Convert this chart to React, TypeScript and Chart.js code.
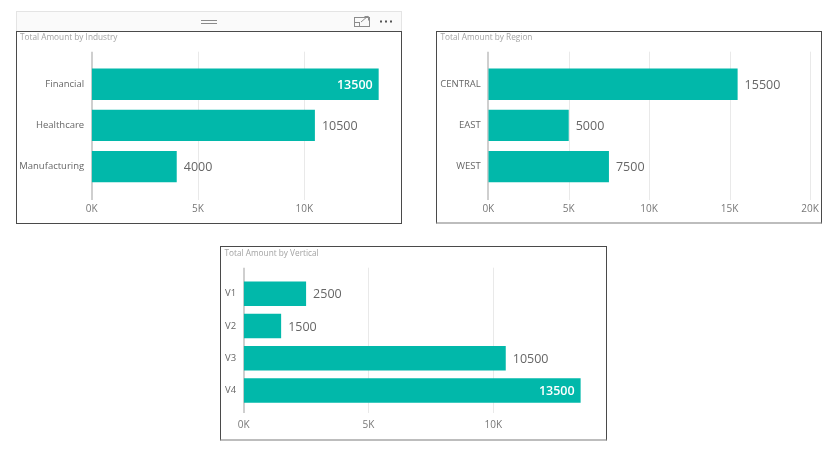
import React, { useEffect, useRef } from "react";
import { Chart, registerables } from "chart.js";

Chart.register(...registerables);

// ---- data ----
const industryLabels = ["Financial", "Healthcare", "Manufacturing"];
const industryValues = [13500, 10500, 4000];
const industryTicks = [0, 5000, 10000];

const regionLabels = ["CENTRAL", "EAST", "WEST"];
const regionValues = [15500, 5000, 7500];
const regionTicks = [0, 5000, 10000, 15000, 20000];

const verticalLabels = ["V1", "V2", "V3", "V4"];
const verticalValues = [2500, 1500, 10500, 13500];
const verticalTicks = [0, 5000, 10000];

const FONT = '"Open Sans", "DejaVu Sans", sans-serif';
const BAR = "#01B8AA";

type Geo = {
  areaLeft: number;
  areaRight: number;
  areaTop: number;
  areaBottom: number;
  gridTop: number;
  gridBottom: number;
  tickCenter: number;
  titleCenter: number;
  padL: number;
};

type PanelProps = {
  left: number;
  top: number;
  width: number;
  height: number;
  bottomBorder: number;
  bottomColor: string;
  title: string;
  labels: string[];
  values: number[];
  ticks: number[];
  max: number;
  geo: Geo;
};

function Panel(p: PanelProps) {
  const ref = useRef<HTMLCanvasElement | null>(null);
  const innerW = p.width - 2;
  const innerH = p.height - 1 - p.bottomBorder;

  useEffect(() => {
    const canvas = ref.current;
    if (!canvas) return;
    const g = p.geo;
    const titleSize = 8.25;
    const titleLH = titleSize * 1.2;
    const tickLH = 10 * 1.2;

    const gridPlugin = {
      id: "extGrid",
      beforeDatasetsDraw(chart: any) {
        const ctx = chart.ctx;
        const xs = chart.scales.x;
        ctx.save();
        p.ticks.forEach((v) => {
          const px = Math.round(xs.getPixelForValue(v));
          ctx.beginPath();
          if (v === 0) {
            ctx.strokeStyle = "#cfcfcf";
            ctx.lineWidth = 2;
            ctx.moveTo(px, g.gridTop);
            ctx.lineTo(px, g.gridBottom);
          } else {
            ctx.strokeStyle = "#e9e9e9";
            ctx.lineWidth = 1;
            ctx.moveTo(px + 0.5, g.gridTop);
            ctx.lineTo(px + 0.5, g.gridBottom);
          }
          ctx.stroke();
        });
        ctx.restore();
      },
    };

    const labelPlugin = {
      id: "valueLabels",
      afterDatasetsDraw(chart: any) {
        const ctx = chart.ctx;
        const meta = chart.getDatasetMeta(0);
        ctx.save();
        ctx.textBaseline = "middle";
        meta.data.forEach((bar: any, i: number) => {
          const text = String(p.values[i]);
          ctx.font = `12.5px ${FONT}`;
          const w = ctx.measureText(text).width;
          const outX = bar.x + 7;
          if (outX + w <= chart.width - 4) {
            ctx.fillStyle = "#666666";
            ctx.textAlign = "left";
            ctx.fillText(text, outX, bar.y + 1);
          } else {
            ctx.font = `600 12.5px ${FONT}`;
            ctx.fillStyle = "#ffffff";
            ctx.textAlign = "right";
            ctx.fillText(text, bar.x - 6, bar.y + 1);
          }
        });
        ctx.restore();
      },
    };

    const chart = new Chart(canvas, {
      type: "bar",
      data: {
        labels: p.labels,
        datasets: [
          {
            data: p.values,
            backgroundColor: BAR,
            borderWidth: 0,
            barPercentage: 0.76,
            categoryPercentage: 1,
          },
        ],
      },
      options: {
        indexAxis: "y",
        responsive: false,
        animation: false,
        devicePixelRatio: 1,
        layout: {
          padding: { left: p.geo.padL, right: innerW - g.areaRight, top: 0, bottom: 0 },
        },
        plugins: {
          legend: { display: false },
          tooltip: { enabled: false },
          title: {
            display: true,
            text: p.title,
            align: "start",
            color: "#a3a3a3",
            font: { family: FONT, size: titleSize, weight: "normal", lineHeight: 1.2 },
            padding: {
              top: g.titleCenter - titleLH / 2,
              bottom: g.areaTop - (g.titleCenter + titleLH / 2),
            },
          },
        },
        scales: {
          x: {
            type: "linear",
            min: 0,
            max: p.max,
            grid: {
              display: false,
              drawTicks: true,
              tickLength: g.tickCenter - g.areaBottom - tickLH / 2,
            },
            border: { display: false },
            ticks: {
              color: "#777777",
              font: { family: FONT, size: 10 },
              padding: 0,
              maxRotation: 0,
              autoSkip: false,
              callback: (v: any) => Number(v) / 1000 + "K",
            },
            afterBuildTicks: (s: any) => {
              s.ticks = p.ticks.map((v) => ({ value: v }));
            },
            afterFit: (s: any) => {
              s.height = innerH - g.areaBottom;
            },
          },
          y: {
            type: "category",
            grid: { display: false, drawTicks: false, tickLength: 0 },
            border: { display: false },
            ticks: {
              color: "#666666",
              font: { family: FONT, size: 9.5 },
              padding: 7.5,
              autoSkip: false,
            },
            afterFit: (s: any) => {
              s.width = g.areaLeft - p.geo.padL;
            },
          },
        },
      } as any,
      plugins: [gridPlugin, labelPlugin],
    });
    return () => chart.destroy();
  }, []);

  return (
    <div
      style={{
        position: "absolute",
        left: p.left,
        top: p.top,
        width: p.width,
        height: p.height,
        boxSizing: "border-box",
        border: "1px solid #4a4a4a",
        borderBottom: `${p.bottomBorder}px solid ${p.bottomColor}`,
        background: "#ffffff",
      }}
    >
      <canvas
        ref={ref}
        width={innerW}
        height={innerH}
        style={{ display: "block", width: innerW, height: innerH }}
      />
    </div>
  );
}

function Header() {
  return (
    <div
      style={{
        position: "absolute",
        left: 16,
        top: 11,
        width: 386,
        height: 20,
        boxSizing: "border-box",
        border: "1px solid #e4e4e4",
        borderBottom: "none",
        background: "#fafafa",
      }}
    >
      <svg width={386} height={20} style={{ position: "absolute", left: -1, top: -1 }}>
        <line x1={185} y1={9.5} x2={201} y2={9.5} stroke="#8a8a8a" strokeWidth={1} />
        <line x1={185} y1={12.5} x2={201} y2={12.5} stroke="#8a8a8a" strokeWidth={1} />
        <rect x={338.5} y={6.5} width={15} height={9} fill="none" stroke="#8c8c8c" strokeWidth={1} />
        <rect x={338.5} y={11.5} width={5} height={4} fill="#fafafa" stroke="#8c8c8c" strokeWidth={1} />
        <line x1={345} y1={11} x2={352} y2={5} stroke="#8c8c8c" strokeWidth={1} />
        <line x1={348.5} y1={5.5} x2={352.5} y2={5.5} stroke="#8c8c8c" strokeWidth={1} />
        <line x1={352.5} y1={5.5} x2={352.5} y2={9.5} stroke="#8c8c8c" strokeWidth={1} />
        <rect x={364} y={9.5} width={2} height={2} fill="#555" />
        <rect x={369} y={9.5} width={2} height={2} fill="#555" />
        <rect x={374} y={9.5} width={2} height={2} fill="#555" />
      </svg>
    </div>
  );
}

export default function App() {
  return (
    <div
      style={{
        position: "absolute",
        left: 0,
        top: 0,
        width: 838,
        height: 453,
        background: "#ffffff",
        overflow: "hidden",
      }}
    >
      <Header />
      <Panel
        left={16}
        top={31}
        width={386}
        height={193}
        bottomBorder={1}
        bottomColor="#4a4a4a"
        title="Total Amount by Industry"
        labels={industryLabels}
        values={industryValues}
        ticks={industryTicks}
        max={14000}
        geo={{
          areaLeft: 74.7,
          areaRight: 372.3,
          areaTop: 31.6,
          areaBottom: 155.3,
          gridTop: 19.7,
          gridBottom: 168,
          tickCenter: 177,
          titleCenter: 6,
          padL: 3,
        }}
      />
      <Panel
        left={436}
        top={31}
        width={386}
        height={193}
        bottomBorder={2}
        bottomColor="#bdbdbd"
        title="Total Amount by Region"
        labels={regionLabels}
        values={regionValues}
        ticks={regionTicks}
        max={20000}
        geo={{
          areaLeft: 51.3,
          areaRight: 373,
          areaTop: 31.6,
          areaBottom: 155.3,
          gridTop: 19.7,
          gridBottom: 168,
          tickCenter: 177,
          titleCenter: 6,
          padL: 3.5,
        }}
      />
      <Panel
        left={220}
        top={246}
        width={387}
        height={195}
        bottomBorder={2}
        bottomColor="#bdbdbd"
        title="Total Amount by Vertical"
        labels={verticalLabels}
        values={verticalValues}
        ticks={verticalTicks}
        max={14000}
        geo={{
          areaLeft: 22.7,
          areaRight: 372.1,
          areaTop: 30.6,
          areaBottom: 159.6,
          gridTop: 20.7,
          gridBottom: 166,
          tickCenter: 178,
          titleCenter: 7,
          padL: 3.5,
        }}
      />
    </div>
  );
}
